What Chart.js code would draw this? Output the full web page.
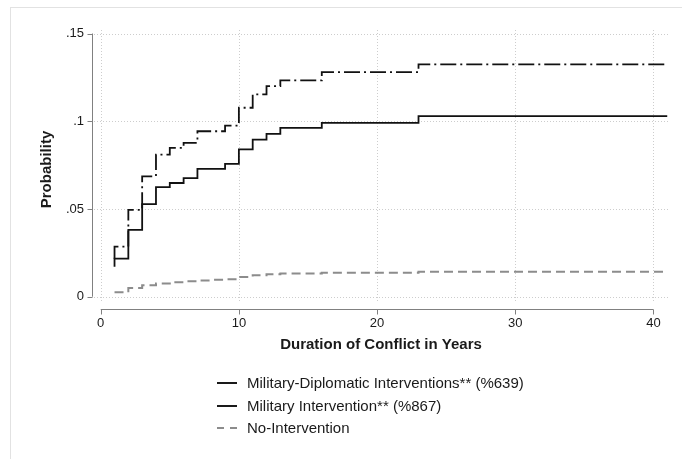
<!DOCTYPE html>
<html>
<head>
<meta charset="utf-8">
<script src="https://cdn.jsdelivr.net/npm/chart.js@4"></script>
<style>
  body { margin: 0; background: #fff; }
  #wrap { position: relative; width: 682px; height: 459px; overflow: hidden; background: #fff; }
  #frame { position: absolute; left: 10px; top: 7px; right: -2px; bottom: -2px; border-left: 1px solid #e2e2e2; border-top: 1px solid #e2e2e2; }
  #grafico { position: absolute; left: 0; top: 0; }
  #legenda { position: absolute; left: 217px; top: 372px; font: 15px "Liberation Sans", Arial, Helvetica, sans-serif; color: #1a1a1a; line-height: 22.5px; }
  #legenda div { display: flex; align-items: center; white-space: nowrap; }
  #legenda .amostra { width: 20px; height: 2px; margin-right: 10px; background: #1a1a1a; }
  #legenda .amostra.cinza { background: linear-gradient(to right, #8c8c8c 0, #8c8c8c 7px, transparent 7px, transparent 13px, #8c8c8c 13px, #8c8c8c 20px); }
</style>
</head>
<body>
<div id="wrap">
  <div id="frame"></div>
  <canvas id="grafico" width="682" height="459"></canvas>
  <div id="legenda">
    <div><span class="amostra"></span>Military-Diplomatic Interventions** (%639)</div>
    <div><span class="amostra"></span>Military Intervention** (%867)</div>
    <div><span class="amostra cinza"></span>No-Intervention</div>
  </div>
</div>
<script>
// dados
const mdAnos = [1, 1, 2, 3, 4, 5, 6, 7, 9, 10, 11, 12, 13, 16, 23, 41];
const mdProb = [0.0217, 0.0286, 0.0495, 0.0686, 0.0810, 0.0848, 0.0877, 0.0943, 0.0975, 0.1077, 0.1153, 0.1200, 0.1233, 0.1280, 0.1324, 0.1324];

const miAnos = [1, 1, 2, 3, 4, 5, 6, 7, 9, 10, 11, 12, 13, 16, 23, 41];
const miProb = [0.0171, 0.0217, 0.0381, 0.0528, 0.0625, 0.0648, 0.0676, 0.0728, 0.0757, 0.0840, 0.0895, 0.0928, 0.0962, 0.0991, 0.1029, 0.1029];

const niAnos = [1, 2, 3, 4, 5, 6, 7, 8, 9, 10, 11, 12, 13, 16, 23, 41];
const niProb = [0.0025, 0.0050, 0.0065, 0.0075, 0.0083, 0.0088, 0.0093, 0.0096, 0.0099, 0.0112, 0.0122, 0.0128, 0.0133, 0.0137, 0.0142, 0.0142];

const xTicks = [0, 10, 20, 30, 40];
const yTicks = [0, 0.05, 0.1, 0.15];
const yTickLabels = ['0', '.05', '.1', '.15'];

function pontos(xs, ys) {
    return xs.map((x, i) => ({ x: x, y: ys[i] }));
}

// grade pontilhada e eixos no estilo Stata
const eixosStata = {
    id: 'eixosStata',
    beforeDatasetsDraw(chart) {
        const { ctx, chartArea, scales: { x, y } } = chart;
        ctx.save();
        ctx.strokeStyle = '#cdcdcd';
        ctx.lineWidth = 1;
        ctx.setLineDash([1, 2]);
        xTicks.forEach(v => {
            const px = Math.round(x.getPixelForValue(v)) + 0.5;
            ctx.beginPath();
            ctx.moveTo(px, chartArea.top);
            ctx.lineTo(px, chartArea.bottom - 7);
            ctx.stroke();
        });
        yTicks.forEach(v => {
            const py = Math.round(y.getPixelForValue(v)) + 0.5;
            ctx.beginPath();
            ctx.moveTo(chartArea.left + 2, py);
            ctx.lineTo(chartArea.right, py);
            ctx.stroke();
        });
        ctx.restore();
    },
    afterDraw(chart) {
        const { ctx, chartArea, scales: { x, y } } = chart;
        ctx.save();
        ctx.strokeStyle = '#808080';
        ctx.lineWidth = 1;
        const ax = chartArea.left + 0.5;
        const ay = chartArea.bottom + 0.5;
        ctx.beginPath();
        ctx.moveTo(ax, y.getPixelForValue(yTicks[yTicks.length - 1]));
        ctx.lineTo(ax, y.getPixelForValue(yTicks[0]));
        yTicks.forEach(v => {
            const py = Math.round(y.getPixelForValue(v)) + 0.5;
            ctx.moveTo(ax - 5, py);
            ctx.lineTo(ax, py);
        });
        ctx.moveTo(x.getPixelForValue(xTicks[0]), ay);
        ctx.lineTo(x.getPixelForValue(xTicks[xTicks.length - 1]), ay);
        xTicks.forEach(v => {
            const px = Math.round(x.getPixelForValue(v)) + 0.5;
            ctx.moveTo(px, ay);
            ctx.lineTo(px, ay + 5);
        });
        ctx.stroke();
        ctx.restore();
    }
};

const fonte = '"Liberation Sans", Arial, Helvetica, sans-serif';

const ctx = document.getElementById('grafico').getContext('2d');
const chart = new Chart(ctx, {
    type: 'line',
    data: {
        datasets: [{
            label: 'Military-Diplomatic Interventions** (%639)',
            data: pontos(mdAnos, mdProb),
            borderColor: '#111111',
            borderWidth: 1.8,
            borderDash: [16, 4, 2, 4],
            stepped: true,
            pointRadius: 0,
            fill: false
        }, {
            label: 'Military Intervention** (%867)',
            data: pontos(miAnos, miProb),
            borderColor: '#111111',
            borderWidth: 1.8,
            stepped: true,
            pointRadius: 0,
            fill: false
        }, {
            label: 'No-Intervention',
            data: pontos(niAnos, niProb),
            borderColor: '#8c8c8c',
            borderWidth: 2,
            borderDash: [9, 5],
            stepped: true,
            pointRadius: 0,
            fill: false
        }]
    },
    options: {
        responsive: false,
        animation: false,
        layout: {
            padding: { left: 10, top: 30, right: 12, bottom: 100 }
        },
        plugins: {
            legend: { display: false },
            tooltip: { enabled: false }
        },
        scales: {
            x: {
                type: 'linear',
                min: -0.63,
                max: 41.2,
                afterBuildTicks: scale => { scale.ticks = xTicks.map(v => ({ value: v })); },
                afterFit: scale => { scale.height = 50; },
                grid: { display: false, drawTicks: false },
                border: { display: false },
                ticks: {
                    color: '#1a1a1a',
                    font: { family: fonte, size: 13 },
                    padding: 7,
                    maxRotation: 0,
                    autoSkip: false
                },
                title: {
                    display: true,
                    text: 'Duration of Conflict in Years',
                    color: '#1a1a1a',
                    font: { family: fonte, size: 15, weight: 'bold' },
                    padding: { top: 0, bottom: 5 }
                }
            },
            y: {
                type: 'linear',
                min: -0.007,
                max: 0.152,
                afterBuildTicks: scale => { scale.ticks = yTicks.map(v => ({ value: v })); },
                afterFit: scale => { scale.width = 82; },
                grid: { display: false, drawTicks: false },
                border: { display: false },
                ticks: {
                    color: '#1a1a1a',
                    font: { family: fonte, size: 13 },
                    padding: 8,
                    autoSkip: false,
                    callback: (v, i) => yTickLabels[i]
                },
                title: {
                    display: true,
                    text: 'Probability',
                    color: '#1a1a1a',
                    font: { family: fonte, size: 15, weight: 'bold' },
                    padding: { top: 28, bottom: 0 }
                }
            }
        }
    },
    plugins: [eixosStata]
});
</script>
</body>
</html>
